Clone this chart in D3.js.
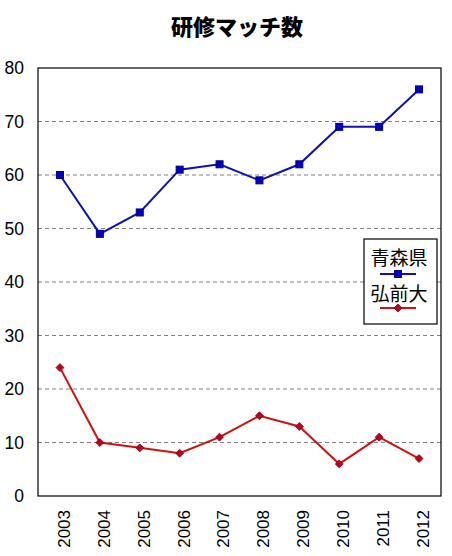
<!DOCTYPE html>
<html><head><meta charset="utf-8">
<script src="https://cdn.jsdelivr.net/npm/d3@7"></script>
<style>body{margin:0;background:#fff}</style>
</head><body>
<svg id="c" width="452" height="556"></svg>
<script>
const years = ["2003","2004","2005","2006","2007","2008","2009","2010","2011","2012"];
const aomori = [60,49,53,61,62,59,62,69,69,76];
const hirosaki = [24,10,9,8,11,15,13,6,11,7];
const yTicks = [0,10,20,30,40,50,60,70,80];
const seriesNames = ["青森県","弘前大"];

const svg = d3.select("#c");
const L=38, R=441, T=68, B=496;
const x = d3.scalePoint().domain(years).range([40,439]).padding(0.5);
const y = d3.scaleLinear().domain([0,80]).range([B,T]);
const font = "Arial, 'Liberation Sans', sans-serif";

svg.append("text").attr("x",237).attr("y",35).attr("text-anchor","middle")
  .attr("font-family","'Noto Sans CJK JP'").attr("font-weight","900").attr("font-size",22)
  .text("研修マッチ数");

// grid
svg.append("g").selectAll("line").data(yTicks.filter(d=>d>0&&d<80)).join("line")
  .attr("x1",L).attr("x2",R).attr("y1",d=>y(d)).attr("y2",d=>y(d))
  .attr("stroke","#808080").attr("stroke-dasharray","4,3").attr("stroke-width",1);

svg.append("rect").attr("x",L).attr("y",T).attr("width",R-L).attr("height",B-T)
  .attr("fill","none").attr("stroke","#000").attr("stroke-width",1.2);

// y axis
const ya = svg.append("g").attr("transform",`translate(${L},0)`)
  .call(d3.axisLeft(y).tickValues(yTicks).tickSize(0).tickPadding(14));
ya.select(".domain").remove();
ya.selectAll("text").attr("font-family",font).attr("font-size",17.5).attr("fill","#000");

// x axis
const xa = svg.append("g").attr("transform",`translate(0,${B})`)
  .call(d3.axisBottom(x).tickSize(0));
xa.select(".domain").remove();
xa.selectAll("text").attr("font-family",font).attr("font-size",17).attr("fill","#000")
  .attr("transform","rotate(-90)").attr("text-anchor","end").attr("x",-14).attr("y",0).attr("dy","0.55em");

const line = d3.line().x((d,i)=>x(years[i])).y(d=>y(d));
const blue="#1010b0", red="#d01010";
svg.append("path").datum(aomori).attr("d",line).attr("fill","none").attr("stroke",blue).attr("stroke-width",2);
svg.append("path").datum(hirosaki).attr("d",line).attr("fill","none").attr("stroke",red).attr("stroke-width",2);

svg.append("g").selectAll("rect").data(aomori).join("rect")
  .attr("x",(d,i)=>x(years[i])-3.5).attr("y",d=>y(d)-3.5).attr("width",7).attr("height",7)
  .attr("fill","#0000c8").attr("stroke","#000080").attr("stroke-width",1);
const diamond = d3.symbol().type(d3.symbolDiamond2).size(40);
svg.append("g").selectAll("path").data(hirosaki).join("path")
  .attr("d",diamond).attr("transform",(d,i)=>`translate(${x(years[i])},${y(d)})`)
  .attr("fill","#c00020").attr("stroke","#800000").attr("stroke-width",0.8);

// legend
const lg = svg.append("g");
lg.append("rect").attr("x",364).attr("y",239).attr("width",73).attr("height",85)
  .attr("fill","#fff").attr("stroke","#000").attr("stroke-width",1.2);
lg.append("text").attr("x",399).attr("y",265).attr("text-anchor","middle")
  .attr("font-family","'Noto Sans CJK JP'").attr("font-size",19).text(seriesNames[0]);
lg.append("line").attr("x1",380).attr("x2",416).attr("y1",274).attr("y2",274).attr("stroke",blue).attr("stroke-width",2);
lg.append("rect").attr("x",394.5).attr("y",270.5).attr("width",7).attr("height",7).attr("fill","#0000c8").attr("stroke","#000080");
lg.append("text").attr("x",399).attr("y",301).attr("text-anchor","middle")
  .attr("font-family","'Noto Sans CJK JP'").attr("font-size",19).text(seriesNames[1]);
lg.append("line").attr("x1",380).attr("x2",416).attr("y1",308).attr("y2",308).attr("stroke",red).attr("stroke-width",2);
lg.append("path").attr("d",diamond).attr("transform","translate(398,308)").attr("fill","#c00020").attr("stroke","#800000").attr("stroke-width",0.8);
</script>
</body></html>
